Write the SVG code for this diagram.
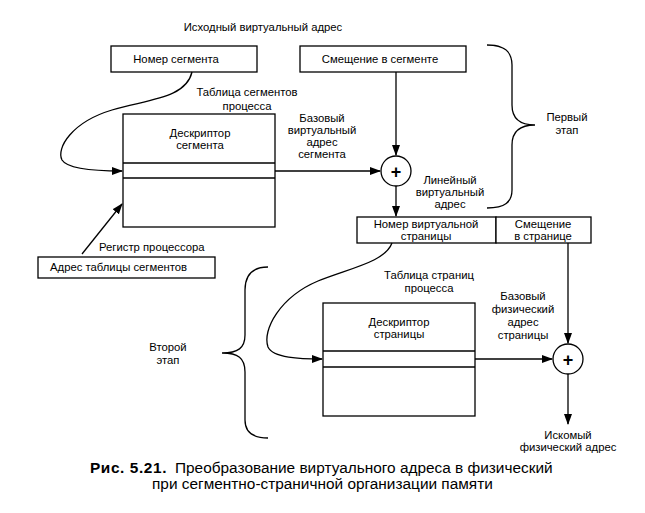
<svg xmlns="http://www.w3.org/2000/svg" width="645" height="513" viewBox="0 0 645 513">
<defs>
<marker id="ah" markerWidth="11" markerHeight="8" refX="10" refY="4" orient="auto" markerUnits="userSpaceOnUse">
<path d="M0,0 L11,4 L0,8 z" fill="#000"/>
</marker>
</defs>
<style>
text{font-family:"Liberation Sans",Arial,sans-serif;font-size:11.3px;fill:#000}
.c{text-anchor:middle}
.box{fill:#fff;stroke:#000;stroke-width:1.3}
.ln{fill:none;stroke:#000;stroke-width:1.3}
.plus{font-size:18px;font-weight:bold}
.cap{font-size:15.4px}
</style>
<rect width="645" height="513" fill="#fff"/>
<text class="c" x="263" y="31">Исходный виртуальный адрес</text>
<g id="seg-num">
<rect class="box" x="111" y="46" width="146" height="26"/>
<text class="c" x="176" y="63">Номер сегмента</text>
</g>
<g id="seg-off">
<rect class="box" x="300" y="46" width="166" height="26"/>
<text class="c" x="380" y="63">Смещение в сегменте</text>
</g>
<g id="seg-table">
<text class="c" x="247" y="96">Таблица сегментов</text>
<text class="c" x="247" y="110">процесса</text>
<rect class="box" x="123" y="114" width="152" height="113"/>
<line class="ln" x1="123" y1="163" x2="275" y2="163"/>
<line class="ln" x1="123" y1="178" x2="275" y2="178"/>
<text class="c" x="200" y="137">Дескриптор</text>
<text class="c" x="200" y="149">сегмента</text>
</g>
<g id="reg">
<text x="99" y="251">Регистр процессора</text>
<rect class="box" x="38" y="257" width="177" height="21"/>
<text x="50" y="271">Адрес таблицы сегментов</text>
</g>
<g id="sum1">
<circle class="ln" cx="396" cy="171" r="15"/>
<text class="c plus" x="396" y="177.5">+</text>
</g>
<g id="lin-addr">
<rect class="box" x="357" y="217" width="139" height="26"/>
<rect class="box" x="496" y="217" width="95" height="26"/>
<text class="c" x="426" y="228">Номер виртуальной</text>
<text class="c" x="426" y="240">страницы</text>
<text class="c" x="543" y="228">Смещение</text>
<text class="c" x="543" y="240">в странице</text>
</g>
<g id="page-table">
<text class="c" x="429" y="279">Таблица страниц</text>
<text class="c" x="429" y="292">процесса</text>
<rect class="box" x="323" y="303" width="152" height="113"/>
<line class="ln" x1="323" y1="351" x2="475" y2="351"/>
<line class="ln" x1="323" y1="367" x2="475" y2="367"/>
<text class="c" x="399" y="326">Дескриптор</text>
<text class="c" x="399" y="338">страницы</text>
</g>
<g id="sum2">
<circle class="ln" cx="568" cy="359" r="15"/>
<text class="c plus" x="568" y="365.5">+</text>
</g>
<g id="labels">
<text class="c" x="322" y="122">Базовый</text>
<text class="c" x="322" y="134">виртуальный</text>
<text class="c" x="322" y="146">адрес</text>
<text class="c" x="322" y="158">сегмента</text>
<text class="c" x="450" y="184">Линейный</text>
<text class="c" x="450" y="196">виртуальный</text>
<text class="c" x="450" y="208">адрес</text>
<text class="c" x="567" y="121">Первый</text>
<text class="c" x="567" y="134">этап</text>
<text class="c" x="168" y="351">Второй</text>
<text class="c" x="168" y="364">этап</text>
<text class="c" x="523" y="300">Базовый</text>
<text class="c" x="523" y="313">физический</text>
<text class="c" x="523" y="326">адрес</text>
<text class="c" x="523" y="339">страницы</text>
<text class="c" x="568" y="439">Искомый</text>
<text class="c" x="568" y="451">физический адрес</text>
</g>
<g id="connectors">
<path class="ln" d="M192,72 C186,98 150,99 112,110 C72,122 56,148 62,160 C68,170 100,171 122,171" marker-end="url(#ah)"/>
<path class="ln" d="M82,254 L122,204" marker-end="url(#ah)"/>
<path class="ln" d="M275,171 L380,171" marker-end="url(#ah)"/>
<path class="ln" d="M396,72 L396,155" marker-end="url(#ah)"/>
<path class="ln" d="M396,186 L396,216" marker-end="url(#ah)"/>
<path class="ln" d="M392,243 C385,262 350,268 318,281 C280,297 262,330 268,347 C273,358 300,359 322,359" marker-end="url(#ah)"/>
<path class="ln" d="M475,359 L552,359" marker-end="url(#ah)"/>
<path class="ln" d="M568,243 L568,343" marker-end="url(#ah)"/>
<path class="ln" d="M568,374 L568,424" marker-end="url(#ah)"/>
<path class="ln" d="M487,45 C505,45 512,52 512,65 L512,105 C512,118 520,125 535,125 C520,125 512,132 512,145 L512,190 C512,202 505,208 487,208"/>
<path class="ln" d="M268,267 C252,267 245,275 245,290 L245,335 C245,348 238,353 222,353 C238,353 245,358 245,372 L245,420 C245,432 252,438 268,438"/>
</g>
<text class="cap" x="90" y="473"><tspan font-weight="bold" letter-spacing="0.6">Рис. 5.21.</tspan><tspan x="175">Преобразование виртуального адреса в физический</tspan></text>
<text class="cap" x="152" y="489">при сегментно-страничной организации памяти</text>
</svg>
